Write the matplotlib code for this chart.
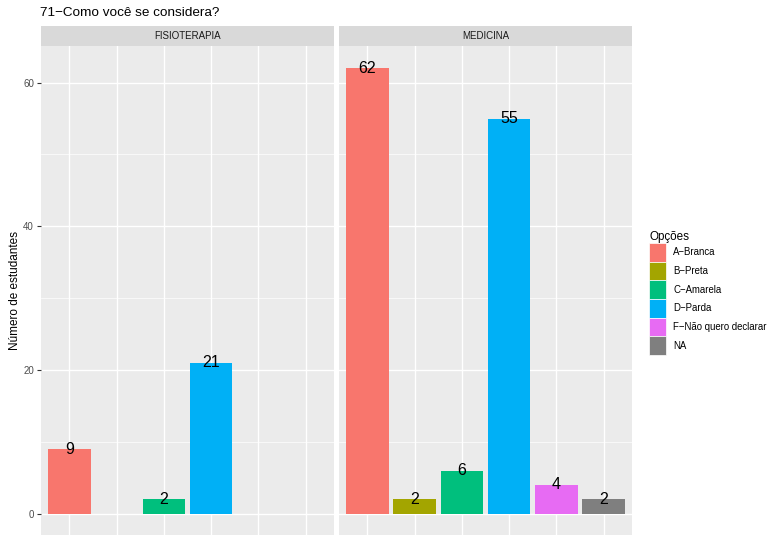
import matplotlib
matplotlib.use("Agg")
import matplotlib.pyplot as plt
from matplotlib.patches import Patch
import numpy as np

plt.rcParams['font.family'] = ['Liberation Sans', 'DejaVu Sans']

# data
categories = ['A−Branca', 'B−Preta', 'C−Amarela', 'D−Parda', 'F−Não quero declarar', 'NA']
colors = ['#F8766D', '#A3A500', '#00BF7D', '#00B0F6', '#E76BF3', '#7F7F7F']
facets = ['FISIOTERAPIA', 'MEDICINA']
fisio = [9, None, 2, 21, None, None]
medicina = [62, 2, 6, 55, 4, 2]
values = [fisio, medicina]

W, H = 771, 535
fig = plt.figure(figsize=(W / 100, H / 100), dpi=100)

panels = [(41, 334), (339, 632)]
ptop, pbot = 46, 536
strip_top = 26

ymax = max(v for series in values for v in series if v is not None)
ylim = (-0.05 * ymax, 1.05 * ymax)

def fx(px):
    return px / W

def fy(py):
    return 1 - py / H

for k, (x0, x1) in enumerate(panels):
    ax = fig.add_axes([fx(x0), fy(pbot), fx(x1 - x0), fy(ptop) - fy(pbot)])
    ax.set_facecolor('#EBEBEB')
    for s in ax.spines.values():
        s.set_visible(False)
    ax.set_xlim(0.4, len(categories) + 0.6)
    ax.set_ylim(*ylim)
    ax.set_yticks([0, 20, 40, 60])
    ax.set_yticks([10, 30, 50], minor=True)
    ax.set_xticks(np.arange(1, len(categories) + 1))
    ax.grid(True, which='major', color='white', linewidth=1.0)
    ax.grid(True, which='minor', axis='y', color='white', linewidth=0.5)
    ax.set_axisbelow(True)
    ax.tick_params(axis='x', length=0, labelbottom=False)
    ax.tick_params(axis='y', which='minor', length=0)
    if k == 0:
        ax.tick_params(axis='y', which='major', length=3, color='#333333',
                       labelsize=7, labelcolor='#4D4D4D', pad=2)
    else:
        ax.tick_params(axis='y', which='major', length=0, labelleft=False)

    for i, v in enumerate(values[k]):
        if v is None:
            continue
        ax.bar(i + 1, v, width=0.9, color=colors[i], zorder=2)
        ax.text(i + 1, v, str(v), ha='center', va='center', fontsize=11.5,
                color='black', zorder=3)

    # strip
    sax = fig.add_axes([fx(x0), fy(ptop), fx(x1 - x0), fy(strip_top) - fy(ptop)])
    sax.set_facecolor('#D9D9D9')
    sax.set_xticks([])
    sax.set_yticks([])
    for s in sax.spines.values():
        s.set_visible(False)
    sax.text(0.5, 0.5, facets[k], ha='center', va='center', fontsize=7,
             color='#1A1A1A', transform=sax.transAxes)

fig.text(fx(40), fy(13), '71−Como você se considera?', fontsize=9.7,
         ha='left', va='center', color='black')
fig.text(fx(15), fy((ptop + pbot) / 2), 'Número de estudantes', rotation=90,
         ha='center', va='center', fontsize=8.5, color='black')

handles = [Patch(facecolor=c, edgecolor='white', linewidth=0.5) for c in colors]
leg = fig.legend(handles, categories, loc='upper left',
                 bbox_to_anchor=(fx(649), fy(231)), frameon=False,
                 fontsize=6.9, title='Opções', title_fontsize=8.4,
                 handlelength=1.77, handleheight=2.62, labelspacing=0.0,
                 handletextpad=0.75, borderpad=0, borderaxespad=0)
leg._legend_box.align = 'left'

fig.savefig('out.png', dpi=100)
